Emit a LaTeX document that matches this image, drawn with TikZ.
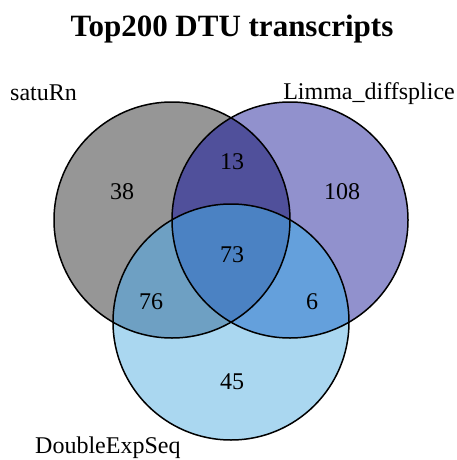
\documentclass[tikz,border=0pt]{standalone}
\usepackage{fontspec}
\setmainfont{Liberation Serif}

\definecolor{satucol}{RGB}{150,150,150}
\definecolor{limmacol}{RGB}{145,145,205}
\definecolor{dexpcol}{RGB}{170,215,240}
\definecolor{slcol}{RGB}{80,80,155}
\definecolor{sdcol}{RGB}{110,160,195}
\definecolor{ldcol}{RGB}{100,160,220}
\definecolor{allcol}{RGB}{75,130,195}

\tikzset{
  setlabel/.style = {anchor=base, inner sep=0pt, font=\fontsize{24}{26}\selectfont},
  count/.style = {inner sep=0pt, font=\fontsize{24}{26}\selectfont},
}

\begin{document}
\begin{tikzpicture}[
    x = 1pt,
    y = -1pt,
    ]
    \useasboundingbox (0,0) rectangle (457,460);
    % circle centres
    \coordinate (satu) at (172,220);
    \coordinate (limma) at (290,220);
    \coordinate (dexp) at (231,322);
    \def\rad{118}
    % single sets
    \fill[satucol] (satu) circle (\rad);
    \fill[limmacol] (limma) circle (\rad);
    \fill[dexpcol] (dexp) circle (\rad);
    % pairwise overlaps
    \begin{scope}
      \clip (satu) circle (\rad);
      \fill[slcol] (limma) circle (\rad);
      \fill[sdcol] (dexp) circle (\rad);
    \end{scope}
    \begin{scope}
      \clip (limma) circle (\rad);
      \fill[ldcol] (dexp) circle (\rad);
    \end{scope}
    % triple overlap
    \begin{scope}
      \clip (satu) circle (\rad);
      \clip (limma) circle (\rad);
      \fill[allcol] (dexp) circle (\rad);
    \end{scope}
    % outlines
    \foreach \c in {satu, limma, dexp}
    \draw[line width=1.5pt] (\c) circle (\rad);
    % counts
    \node[count] (n38) at (122,192) {38};
    \node[count] (n13) at (232,162) {13};
    \node[count] (n108) at (342,192) {108};
    \node[count] (n73) at (232,255) {73};
    \node[count] (n76) at (151,302) {76};
    \node[count] (n6) at (312,302) {6};
    \node[count] (n45) at (232,382) {45};
    % set names
    \node[setlabel, anchor=base west] (lsatu) at (10,100) {satuRn};
    \node[setlabel, anchor=base east] (llimma) at (455,99) {Limma\_diffsplice};
    \node[setlabel, anchor=base west] (ldexp) at (35,453) {DoubleExpSeq};
    % title
    \node[anchor=base, inner sep=0pt, font=\fontsize{31}{33}\selectfont\bfseries]
    (title) at (232,37) {Top200 DTU transcripts};
  \end{tikzpicture}
\end{document}
